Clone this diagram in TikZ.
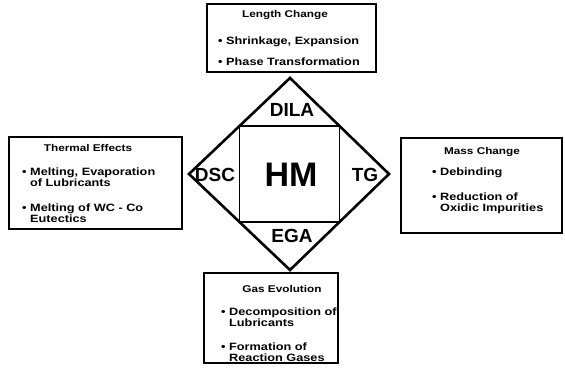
\documentclass[tikz,border=0pt]{standalone}
\usepackage{fontspec}
\usetikzlibrary{calc}
\setmainfont{Liberation Sans}
\newfontfamily\widefont[FakeStretch=1.2]{Liberation Sans}
\begin{document}
\begin{tikzpicture}[x=1pt,y=-1pt,
  box/.style={draw, line width=1.5pt, inner sep=0pt},
  ttl/.style={font=\widefont\bfseries\fontsize{9.8}{10}\selectfont, inner sep=0pt},
  itm/.style={font=\widefont\bfseries\fontsize{10.6}{10.8}\selectfont, anchor=west, align=left, inner sep=0pt},
  lbl/.style={font=\bfseries\fontsize{19}{20}\selectfont, inner sep=0pt},
  big/.style={font=\bfseries\fontsize{34}{36}\selectfont, inner sep=0pt}]
\useasboundingbox (0,0) rectangle (565,372);
\newcommand{\ind}{\hphantom{\textbullet\ }}
% boxes
\node[box, minimum width=169pt, minimum height=68pt] (btop) at (291.5,38) {};
\node[box, minimum width=173pt, minimum height=92pt] (bleft) at (95.5,183) {};
\node[box, minimum width=161pt, minimum height=95pt] (bright) at (481.5,185.5) {};
\node[box, minimum width=134pt, minimum height=90pt] (bbot) at (271,318) {};
% diamond
\coordinate (dT) at (290,78);
\coordinate (dR) at (389,174);
\coordinate (dB) at (290,270);
\coordinate (dL) at (189,174);
\draw[line width=2.6pt, line join=miter] (dT) -- (dR) -- (dB) -- (dL) -- cycle;
\draw[line width=1.3pt] ($(dT)!0.5!(dL)$) coordinate (sTL) -- ($(dT)!0.5!(dR)$) coordinate (sTR)
  -- ($(dB)!0.5!(dR)$) coordinate (sBR) -- ($(dB)!0.5!(dL)$) coordinate (sBL) -- cycle;
\node[big] (hm) at (291,175) {HM};
\node[lbl] (dila) at (292,110) {DILA};
\node[lbl] (dsc) at (215,175) {DSC};
\node[lbl] (tg) at (365,175) {TG};
\node[lbl] (ega) at (292,236) {EGA};
% top box text
\node[ttl] (t0) at (285,15) {Length Change};
\node[itm] (t1) at (218,42) {\textbullet\ Shrinkage, Expansion};
\node[itm] (t2) at (218,62) {\textbullet\ Phase Transformation};
% left box text
\node[ttl] (l0) at (88,148) {Thermal Effects};
\node[itm] (l1) at (22,177.5) {\textbullet\ Melting, Evaporation\\\ind of Lubricants};
\node[itm] (l2) at (22,213.5) {\textbullet\ Melting of WC - Co\\\ind Eutectics};
% right box text
\node[ttl] (r0) at (482,152) {Mass Change};
\node[itm] (r1) at (432,173) {\textbullet\ Debinding};
\node[itm] (r2) at (432,203) {\textbullet\ Reduction of\\\ind Oxidic Impurities};
% bottom box text
\node[ttl] (g0) at (282,289) {Gas Evolution};
\node[itm] (g1) at (221,317.5) {\textbullet\ Decomposition of\\\ind Lubricants};
\node[itm] (g2) at (221,352) {\textbullet\ Formation of\\\ind Reaction Gases};
\end{tikzpicture}
\end{document}
